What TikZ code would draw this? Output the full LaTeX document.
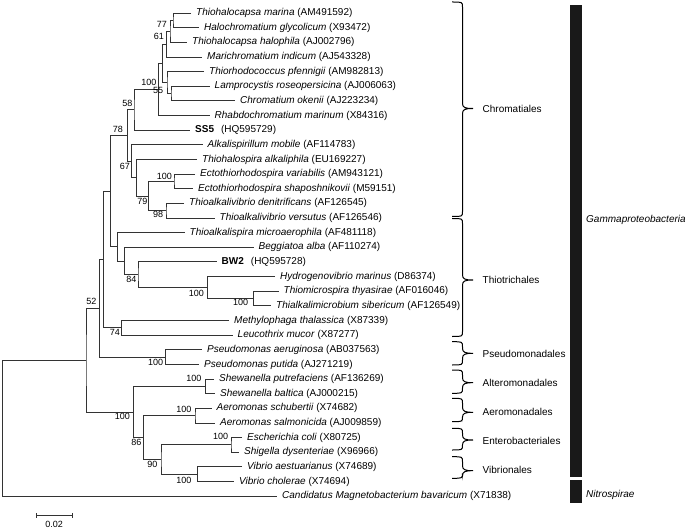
\documentclass[tikz,border=0pt]{standalone}
\usepackage{fontspec}
\setmainfont{Liberation Sans}
\usetikzlibrary{calc}
\tikzset{
  branch/.style={draw=black!80, line width=0.8pt},
  leaf/.style={anchor=west, inner xsep=5pt, inner ysep=0pt, text height=7.5pt, text depth=2.2pt, font=\fontsize{10}{12}\selectfont},
  boot/.style={anchor=east, inner sep=0pt, font=\fontsize{9}{11}\selectfont},
  order/.style={anchor=west, inner sep=0pt, font=\fontsize{10}{12}\selectfont},
  cbrace/.style={draw=black, line width=1pt},
}
\newcommand\taxon[3]{\node[leaf] (t#1) at (#2,{13+14.64*#1}) {#3};}
\newcommand\inode[4]{%
  \path (#3) -- (#4) coordinate[pos=.5] (#1m);
  \path let \p1=(#1m) in coordinate (#1) at (#2pt,\y1);
  \draw[branch] (#3) -| (#1) |- (#4);}
\newcommand\clade[3]{%
  \draw[cbrace] (452,#1) .. controls (462.5,#1) .. (462.5,{#1+5}) -- (462.5,{#3-5})
    .. controls (462.5,{#3-1}) and (465,#3) .. (473,#3)
    .. controls (465,#3) and (462.5,{#3+1}) .. (462.5,{#3+5}) -- (462.5,{#2-5})
    .. controls (462.5,#2) .. (452,#2);}
\begin{document}
\begin{tikzpicture}[x=1pt,y=-1pt]
\useasboundingbox (0,0) rectangle (685,529);
% leaves
\taxon{0}{191}{\textit{Thiohalocapsa marina} (AM491592)}
\taxon{1}{199}{\textit{Halochromatium glycolicum} (X93472)}
\taxon{2}{187}{\textit{Thiohalocapsa halophila} (AJ002796)}
\taxon{3}{202}{\textit{Marichromatium indicum} (AJ543328)}
\taxon{4}{204}{\textit{Thiorhodococcus pfennigii} (AM982813)}
\taxon{5}{209.5}{\textit{Lamprocystis roseopersicina} (AJ006063)}
\taxon{6}{235}{\textit{Chromatium okenii} (AJ223234)}
\taxon{7}{209.5}{\textit{Rhabdochromatium marinum} (X84316)}
\taxon{8}{190}{\textbf{SS5}\hspace{7pt}(HQ595729)}
\taxon{9}{202.5}{\textit{Alkalispirillum mobile} (AF114783)}
\taxon{10}{197}{\textit{Thiohalospira alkaliphila} (EU169227)}
\taxon{11}{195}{\textit{Ectothiorhodospira variabilis} (AM943121)}
\taxon{12}{193}{\textit{Ectothiorhodospira shaposhnikovii} (M59151)}
\taxon{13}{184}{\textit{Thioalkalivibrio denitrificans} (AF126545)}
\taxon{14}{214.5}{\textit{Thioalkalivibrio versutus} (AF126546)}
\taxon{15}{184.5}{\textit{Thioalkalispira microaerophila} (AF481118)}
\taxon{16}{253.5}{\textit{Beggiatoa alba} (AF110274)}
\taxon{17}{216.5}{\textbf{BW2}\hspace{7pt}(HQ595728)}
\taxon{18}{275}{\textit{Hydrogenovibrio marinus} (D86374)}
\taxon{19}{278.5}{\textit{Thiomicrospira thyasirae} (AF016046)}
\taxon{20}{271}{\textit{Thialkalimicrobium sibericum} (AF126549)}
\taxon{21}{229}{\textit{Methylophaga thalassica} (X87339)}
\taxon{22}{232.5}{\textit{Leucothrix mucor} (X87277)}
\taxon{23}{202}{\textit{Pseudomonas aeruginosa} (AB037563)}
\taxon{24}{199}{\textit{Pseudomonas putida} (AJ271219)}
\taxon{25}{214}{\textit{Shewanella putrefaciens} (AF136269)}
\taxon{26}{215}{\textit{Shewanella baltica} (AJ000215)}
\taxon{27}{211.5}{\textit{Aeromonas schubertii} (X74682)}
\taxon{28}{215}{\textit{Aeromonas salmonicida} (AJ009859)}
\taxon{29}{242}{\textit{Escherichia coli} (X80725)}
\taxon{30}{239}{\textit{Shigella dysenteriae} (X96966)}
\taxon{31}{242}{\textit{Vibrio aestuarianus} (X74689)}
\taxon{32}{234}{\textit{Vibrio cholerae} (X74694)}
\taxon{33}{277}{\textit{Candidatus Magnetobacterium bavaricum} (X71838)}
% internal nodes
\inode{A}{173}{t0.west}{t1.west}
\inode{B}{170}{A}{t2.west}
\inode{C}{166.5}{B}{t3.west}
\inode{D}{171}{t5.west}{t6.west}
\inode{E}{167}{t4.west}{D}
\inode{F}{162.5}{C}{E}
\inode{G}{158.3}{F}{t7.west}
\inode{H}{134}{G}{t8.west}
\inode{M}{174}{t11.west}{t12.west}
\inode{N}{166}{t13.west}{t14.west}
\inode{L}{148.3}{M}{N}
\inode{K}{136.7}{t10.west}{L}
\inode{J}{131.7}{t9.west}{K}
\inode{I}{127.3}{H}{J}
\inode{R}{253.3}{t19.west}{t20.west}
\inode{Q}{207.3}{t18.west}{R}
\inode{P}{138}{t17.west}{Q}
\inode{S}{124.3}{t16.west}{P}
\inode{T}{117.7}{t15.west}{S}
\inode{U}{110.5}{I}{T}
\inode{W}{121.7}{t21.west}{t22.west}
\inode{V}{103.5}{U}{W}
\inode{Y}{165.7}{t23.west}{t24.west}
\inode{X}{99.3}{V}{Y}
\inode{SH}{205.7}{t25.west}{t26.west}
\inode{AE}{195}{t27.west}{t28.west}
\inode{EC}{231}{t29.west}{t30.west}
\inode{VB}{197.7}{t31.west}{t32.west}
\inode{CC}{161}{EC}{VB}
\inode{BB}{143.3}{AE}{CC}
\inode{AA}{133.3}{SH}{BB}
\inode{Z}{86}{X}{AA}
\inode{RT}{2.7}{Z}{t33.west}
% bootstrap values
\node[boot] (b1) at (167,24.3) {77};
\node[boot] (b2) at (164,36) {61};
\node[boot] (b3) at (156.7,82) {100};
\node[boot] (b4) at (163.3,90) {55};
\node[boot] (b5) at (132.7,103.3) {58};
\node[boot] (b6) at (123,129) {78};
\node[boot] (b7) at (130,166.7) {67};
\node[boot] (b8) at (172,176.7) {100};
\node[boot] (b9) at (147.7,201.7) {79};
\node[boot] (b10) at (163.3,214.3) {98};
\node[boot] (b11) at (136.7,279) {84};
\node[boot] (b12) at (204,293.3) {100};
\node[boot] (b13) at (248.3,302.3) {100};
\node[boot] (b14) at (96.7,301) {52};
\node[boot] (b15) at (120,332.3) {74};
\node[boot] (b16) at (163.3,362.3) {100};
\node[boot] (b17) at (201.7,378.3) {100};
\node[boot] (b18) at (130,416) {100};
\node[boot] (b19) at (191.7,409.3) {100};
\node[boot] (b20) at (141.7,442.7) {86};
\node[boot] (b21) at (228.3,436.7) {100};
\node[boot] (b22) at (157.7,464.3) {90};
\node[boot] (b23) at (191.7,480) {100};
% clade braces and labels
\clade{2}{216.5}{108.5}
\clade{218.5}{336.5}{280}
\clade{341.7}{365}{353.3}
\clade{370}{393.3}{382.7}
\clade{398.3}{421.7}{412.3}
\clade{428.3}{450}{440}
\clade{456.7}{478.3}{470.7}
\node[order] (o1) at (482.5,108.5) {Chromatiales};
\node[order] (o2) at (482.5,280) {Thiotrichales};
\node[order] (o3) at (482.5,354) {Pseudomonadales};
\node[order] (o4) at (482.5,382.7) {Alteromonadales};
\node[order] (o5) at (482.5,412.3) {Aeromonadales};
\node[order] (o6) at (482.5,440.5) {Enterobacteriales};
\node[order] (o7) at (482.5,470.3) {Vibrionales};
% phylum bars
\fill[black!90] (570,5) rectangle (581.7,476.7);
\fill[black!90] (570,480) rectangle (581.7,503.3);
\node[order] (p1) at (586,220) {\textit{Gammaproteobacteria}};
\node[order] (p2) at (586,495) {\textit{Nitrospirae}};
% scale bar
\coordinate (s1) at (36,515.7);
\coordinate (s2) at (72.3,515.7);
\draw[branch] (s1) -- (s2);
\draw[branch] ($(s1)+(0,-2.5)$) -- ($(s1)+(0,2.5)$);
\draw[branch] ($(s2)+(0,-2.5)$) -- ($(s2)+(0,2.5)$);
\node[inner sep=0pt, font=\fontsize{9}{11}\selectfont] (sc) at (54.2,524.2) {0.02};
\end{tikzpicture}
\end{document}
